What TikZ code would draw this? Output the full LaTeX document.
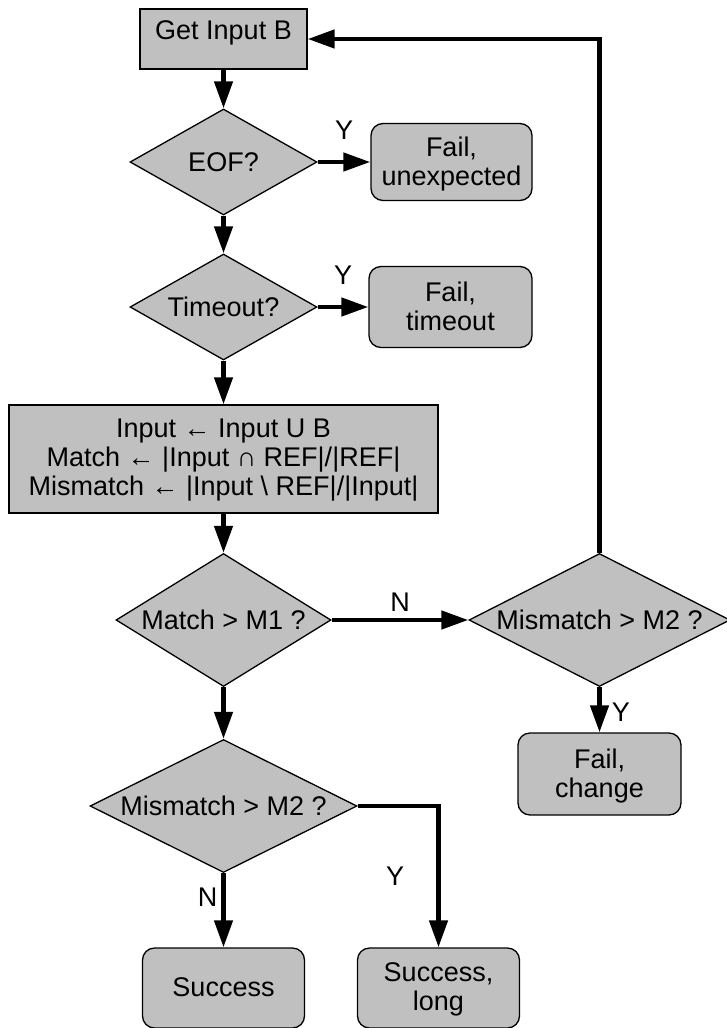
\documentclass[tikz,border=0pt]{standalone}
\usepackage{fontspec}
\setmainfont{Liberation Sans}
\usetikzlibrary{shapes.geometric,arrows.meta,positioning}
\definecolor{boxgray}{RGB}{192,192,192}
\newcommand{\lar}{{\fontsize{27}{27}\selectfont\raisebox{0pt}{←}}}
\tikzstyle{line} = [draw, line width=4.5pt, -{Triangle[length=27pt,width=18pt]}]
\tikzstyle{block} = [draw, line width=1.3pt, fill=boxgray, rectangle, align=center]
\tikzstyle{decision} = [draw, line width=1.3pt, fill=boxgray, diamond, aspect=2, inner sep=0pt, align=center]
\tikzstyle{outcome} = [draw, line width=1.3pt, fill=boxgray, rectangle, rounded corners=12pt, align=center, minimum width=162pt, minimum height=80pt, text depth=2pt]
\tikzstyle{lbl} = [inner sep=0pt]
\begin{document}
\begin{tikzpicture}[x=1pt, y=-1pt, font=\fontsize{27}{29}\selectfont]
        \useasboundingbox (0,0) rectangle (726,1028);
        \node[block, minimum width=167pt, minimum height=60pt, text depth=17pt] (get) at (223.5,39) {Get Input B};
        \node[decision, below of=get, node distance=123pt, minimum width=187pt, minimum height=106pt] (eof) {EOF?};
        \node[outcome, right of=eof, node distance=228pt, minimum width=161pt, minimum height=77pt] (unexp) {Fail,\\unexpected};
        \node[decision, below of=eof, node distance=145pt, minimum width=187pt, minimum height=106pt] (tmo) {Timeout?};
        \node[outcome, right of=tmo, node distance=227pt, minimum width=163pt, minimum height=81pt] (tmofail) {Fail,\\timeout};
        \node[block, below of=tmo, node distance=152pt, minimum width=429pt, minimum height=108pt, text depth=4pt] (upd) {Input \lar{} Input U B\\Match \lar{} |Input ∩ REF|/|REF|\\Mismatch \lar{} |Input \textbackslash{} REF|/|Input|};
        \node[decision, below of=upd, node distance=161pt, minimum width=215pt, minimum height=133pt] (match) {Match > M1 ?};
        \node[decision, right of=match, node distance=376pt, minimum width=261pt, minimum height=133pt] (mis) {Mismatch > M2 ?};
        \node[outcome, below of=mis, node distance=154pt, minimum width=163pt, minimum height=82pt] (change) {Fail,\\change};
        \node[decision, below of=match, node distance=186pt, minimum width=267pt, minimum height=133pt] (mis2) {Mismatch > M2 ?};
        \node[outcome, below of=mis2, node distance=182pt] (succ) {Success};
        \node[outcome, right of=succ, node distance=215pt] (long) {Success,\\long};
        \path[line] (get) -- (eof);
        \path[line] (eof) -- node[lbl, above=20pt] {Y} (unexp);
        \path[line] (eof) -- (tmo);
        \path[line] (tmo) -- node[lbl, above=20pt] {Y} (tmofail);
        \path[line] (tmo) -- (upd);
        \path[line] (upd) -- (match);
        \path[line] (match) -- node[lbl, above=6pt] {N} (mis);
        \path[line] (mis) -- node[lbl, pos=0.55, right=10pt] {Y} (change);
        \path[line] (mis) |- (get);
        \path[line] (match) -- (mis2);
        \path[line] (mis2) -| node[lbl, pos=0.75, left=32pt] {Y} (long);
        \path[line] (mis2) -- node[lbl, pos=0.32, left=4pt] {N} (succ);
    \end{tikzpicture}
\end{document}
